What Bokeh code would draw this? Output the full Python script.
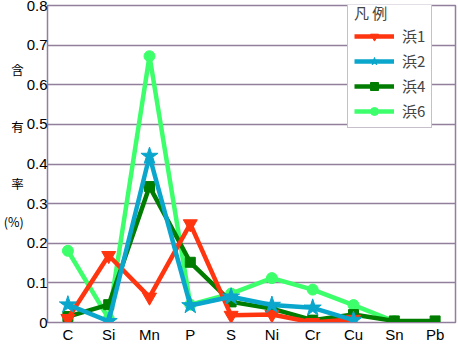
from bokeh.plotting import figure
from bokeh.models import (FactorRange, Range1d, FixedTicker, CustomJSTickFormatter,
                          Legend, LegendItem)
from bokeh.embed import file_html
from bokeh.resources import INLINE

elements = ["C", "Si", "Mn", "P", "S", "Ni", "Cr", "Cu", "Sn", "Pb"]

hama1_x = ["C", "Si", "Mn", "P", "S", "Ni", "Cr", "Cu"]
hama1 = [0.010, 0.169, 0.064, 0.249, 0.018, 0.020, 0.000, 0.008]

hama2_x = ["C", "Si", "Mn", "P", "S", "Ni", "Cr", "Cu"]
hama2 = [0.045, 0.003, 0.420, 0.043, 0.065, 0.044, 0.037, 0.006]

hama4_x = ["C", "Si", "Mn", "P", "S", "Ni", "Cr", "Cu", "Sn", "Pb"]
hama4 = [0.015, 0.045, 0.343, 0.152, 0.052, 0.035, 0.006, 0.020, 0.004, 0.004]

hama6_x = ["C", "Si", "Mn", "P", "S", "Ni", "Cr", "Cu", "Sn"]
hama6 = [0.181, 0.010, 0.672, 0.045, 0.073, 0.112, 0.083, 0.044, 0.003]

y_ticks = [0, 0.1, 0.2, 0.3, 0.4, 0.5, 0.6, 0.7, 0.8]
series_names = ["浜1", "浜2", "浜4", "浜6"]
y_title = "含\n\n\n有\n\n\n率\n\n(%)\n\n "
legend_title = "凡 例"

PURPLE = "#927f9c"
FONT = "Liberation Sans"
CJK = "Noto Sans CJK JP"
FL, FB = 47, 322  # frame left / bottom in canvas pixels

p = figure(width=458, height=345, x_range=FactorRange(*elements, range_padding=0),
           y_range=Range1d(0, 0.8), output_backend="svg", toolbar_location=None,
           min_border_left=FL, min_border_right=3, min_border_top=5, min_border_bottom=23)
p.outline_line_color = PURPLE
p.outline_line_width = 1.5
p.background_fill_color = "white"
p.border_fill_color = "white"

p.xgrid.grid_line_color = None
p.ygrid.grid_line_color = PURPLE
p.ygrid.grid_line_width = 1.5
p.yaxis.ticker = FixedTicker(ticks=y_ticks)
p.yaxis.formatter = CustomJSTickFormatter(code="return tick == 0 ? '0' : tick.toFixed(1);")

for ax in (p.xaxis[0], p.yaxis[0]):
    ax.axis_line_color = PURPLE
    ax.major_tick_line_color = None
    ax.minor_tick_line_color = None
    ax.major_tick_out = 0
    ax.major_tick_in = 0
    ax.major_label_text_font = FONT
    ax.major_label_text_font_size = "15px"
    ax.major_label_text_color = "black"
    ax.major_label_text_line_height = 1.0
p.yaxis.major_label_standoff = 0
p.xaxis.major_label_standoff = 3

p.yaxis.axis_label = y_title
p.yaxis.axis_label_orientation = "horizontal"
p.yaxis.axis_label_standoff = 0
p.yaxis.axis_label_text_font = CJK
p.yaxis.axis_label_text_font_size = "12.5px"
p.yaxis.axis_label_text_font_style = "normal"
p.yaxis.axis_label_text_line_height = 1.0
p.yaxis.axis_label_text_color = "black"

specs = [
    ("浜6", hama6_x, hama6, "#3dff6c", "circle", 11),
    ("浜4", hama4_x, hama4, "#007c00", "square", 10),
    ("浜1", hama1_x, hama1, "#ff3510", "inverted_triangle", 14),
    ("浜2", hama2_x, hama2, "#0aa6cc", "star", 18),
]
items = {}
for name, xs, ys, col, mk, sz in specs:
    l = p.line(xs, ys, line_color=col, line_width=4.5)
    s = p.scatter(xs, ys, marker=mk, size=sz, fill_color=col, line_color=col)
    items[name] = LegendItem(label=name, renderers=[l, s])

legend = Legend(items=[items[n] for n in series_names], location=(347 - FL, FB - 128),
                title=legend_title, title_text_font=CJK, title_text_font_size="15px",
                title_text_font_style="normal", title_standoff=2,
                glyph_width=40, glyph_height=20, label_height=20, spacing=4,
                padding=6, margin=0,
                label_text_font=CJK, label_text_font_size="15px", label_standoff=8,
                border_line_color=PURPLE, border_line_width=1.5,
                background_fill_color="white", background_fill_alpha=1)
p.add_layout(legend, "center")

open("out.html", "w").write(file_html(p, INLINE))
